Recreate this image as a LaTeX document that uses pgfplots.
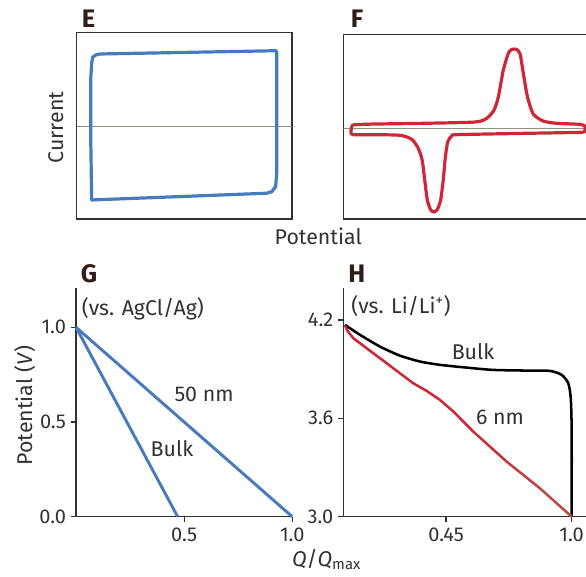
\documentclass[border=0pt]{standalone}
\usepackage{fontspec}
\setmainfont{Fira Sans}
\usepackage{pgfplots}
\pgfplotsset{compat=1.18}
\definecolor{cvblue}{RGB}{72,122,190}
\definecolor{cvred}{RGB}{206,40,56}
\definecolor{zerogray}{RGB}{145,145,125}
\definecolor{framec}{RGB}{50,50,50}
\definecolor{letterc}{RGB}{50,30,25}
\pgfplotsset{
  panel/.style={scale only axis, anchor=south west,
    axis line style={framec, line width=0.9pt},
    tick style={framec, line width=0.9pt},
    tick label style={font=\fontsize{15}{18}\selectfont, text=framec},
    /pgf/number format/assume math mode=true},
  numbered/.style={clip=false, axis x line*=bottom, axis y line*=left,
    tick align=outside, major tick length=4pt,
    xticklabel style={yshift=-1pt}},
}
\begin{document}
\begin{tikzpicture}
\path[use as bounding box] (0,0) rectangle (439.5pt,432pt);
\clip (0,0) rectangle (439.5pt,432pt);

% ---------- E ----------
\begin{axis}[panel, at={(57.5pt,267.75pt)}, width=161.5pt, height=140pt,
  xmin=0, xmax=1, ymin=-0.989, ymax=1.011, ticks=none]
\addplot[zerogray, line width=1pt] coordinates {(0,0) (1,0)};
\addplot[cvblue, line width=2.4pt, line join=round, line cap=round] coordinates {
(0.0697,0.679) (0.0743,0.743) (0.088,0.768) (0.108,0.779) (0.926,0.814)
(0.929,0.795) (0.929,-0.499) (0.924,-0.643) (0.906,-0.696) (0.882,-0.713)
(0.0697,-0.785) (0.065,-0.071) (0.065,0.500) (0.0697,0.679)};
\end{axis}

% ---------- F ----------
\begin{axis}[panel, at={(257.5pt,267.75pt)}, width=192.5pt, height=138.5pt,
  xmin=0, xmax=1.192, ymin=-0.975, ymax=1.011, ticks=none]
\addplot[zerogray, line width=1pt] coordinates {(0,0) (1.192,0)};
\addplot[cvred, line width=2.4pt, smooth, tension=0.4, line join=round] coordinates {
(0.036,-0.02) (0.0404,0.028) (0.0543,0.039) (0.139,0.046) (0.372,0.054)
(0.612,0.068) (0.666,0.108) (0.700,0.197) (0.720,0.340) (0.743,0.627)
(0.766,0.806) (0.782,0.849) (0.805,0.849) (0.821,0.799) (0.836,0.591)
(0.855,0.340) (0.882,0.154) (0.929,0.078) (0.991,0.054) (1.099,0.043)
(1.121,0.025) (1.124,0) (1.121,-0.029) (1.099,-0.043) (0.836,-0.054)
(0.527,-0.068) (0.503,-0.083) (0.485,-0.144) (0.474,-0.305) (0.464,-0.556)
(0.452,-0.771) (0.437,-0.871) (0.421,-0.900) (0.406,-0.878) (0.390,-0.771)
(0.378,-0.556) (0.366,-0.341) (0.348,-0.215) (0.318,-0.118) (0.263,-0.075)
(0.139,-0.068) (0.046,-0.068) (0.036,-0.047) (0.036,-0.02)};
\end{axis}

% ---------- G ----------
\begin{axis}[panel, numbered, at={(57pt,44.5pt)}, width=162.2pt, height=171.3pt,
  xmin=0, xmax=1, ymin=0, ymax=1.206,
  xtick={0.5,1}, xticklabels={0.5,1.0},
  ytick={0,0.5,1}, yticklabels={0.0,0.5,1.0}]
\addplot[cvblue, line width=2.2pt] coordinates {(0,1) (1,0)};
\addplot[cvblue, line width=2.2pt] coordinates {(0,1) (0.47,0)};
\node[anchor=west, inner sep=0pt, font=\fontsize{16}{19}\selectfont, text=framec] at (axis cs:0.026,1.10) {(vs. AgCl/Ag)};
\node[font=\fontsize{16}{19}\selectfont, text=framec, inner sep=0pt] at (axis cs:0.592,0.648) {50 nm};
\node[font=\fontsize{16}{19}\selectfont, text=framec, inner sep=0pt] at (axis cs:0.444,0.357) {Bulk};
\end{axis}

% ---------- H ----------
\begin{axis}[panel, numbered, at={(257.5pt,44.5pt)}, width=192.5pt, height=171.3pt,
  xmin=0, xmax=1.124, ymin=3, ymax=4.393,
  xtick={0.45,1}, xticklabels={0.45,1.0},
  ytick={3,3.6,4.2}, yticklabels={3.0,3.6,4.2}]
\addplot[black, line width=1.9pt, smooth, tension=0.4] coordinates {
(0.0074,4.170) (0.073,4.109) (0.161,4.037) (0.248,3.982) (0.336,3.946)
(0.423,3.926) (0.540,3.909) (0.657,3.895) (0.803,3.891) (0.905,3.889)
(0.956,3.865) (0.985,3.814) (0.996,3.722) (1.0,3.519) (1.0,3.0)};
\addplot[mesh, point meta=x, point meta min=0, point meta max=1,
  colormap={rb}{rgb255(0)=(206,40,56) rgb255(55)=(206,40,56) rgb255(100)=(178,84,74)},
  line width=1.9pt, line cap=round] coordinates {
(0.0074,4.165) (0.02,4.130) (0.044,4.088) (0.131,3.997) (0.219,3.905)
(0.306,3.814) (0.365,3.767) (0.423,3.712) (0.482,3.641) (0.569,3.519)
(0.715,3.336) (0.861,3.173) (1.0,3.0)};
\node[anchor=west, inner sep=0pt, font=\fontsize{16}{19}\selectfont, text=framec] at (axis cs:0.034,4.282) {(vs. Li/Li\textsuperscript{+})};
\node[font=\fontsize{16}{19}\selectfont, text=framec, inner sep=0pt] at (axis cs:0.568,4.008) {Bulk};
\node[font=\fontsize{16}{19}\selectfont, text=framec, inner sep=0pt] at (axis cs:0.686,3.605) {6 nm};
\end{axis}

% ---------- labels ----------
\node[anchor=base west, inner sep=0pt, font=\fontsize{19}{22}\selectfont\bfseries, text=letterc] at (61.2pt,411pt) {E};
\node[anchor=base west, inner sep=0pt, font=\fontsize{19}{22}\selectfont\bfseries, text=letterc] at (263pt,411pt) {F};
\node[anchor=base west, inner sep=0pt, font=\fontsize{19}{22}\selectfont\bfseries, text=letterc] at (60.5pt,220pt) {G};
\node[anchor=base west, inner sep=0pt, font=\fontsize{19}{22}\selectfont\bfseries, text=letterc] at (261pt,220.3pt) {H};
\node[rotate=90, anchor=base, inner sep=0pt, font=\fontsize{16}{19}\selectfont, text=framec] at (47.25pt,336.4pt) {Current};
\node[anchor=base, inner sep=0pt, font=\fontsize{16}{19}\selectfont, text=framec] at (238.7pt,248.25pt) {Potential};
\node[rotate=90, anchor=base, inner sep=0pt, font=\fontsize{16}{19}\selectfont, text=framec] at (24pt,127.65pt) {Potential (\textit{V})};
\node[anchor=base west, inner sep=0pt, font=\fontsize{16}{19}\selectfont, text=framec] at (218.8pt,7.5pt) {\textit{Q}/\textit{Q}\textsubscript{max}};
\end{tikzpicture}
\end{document}
